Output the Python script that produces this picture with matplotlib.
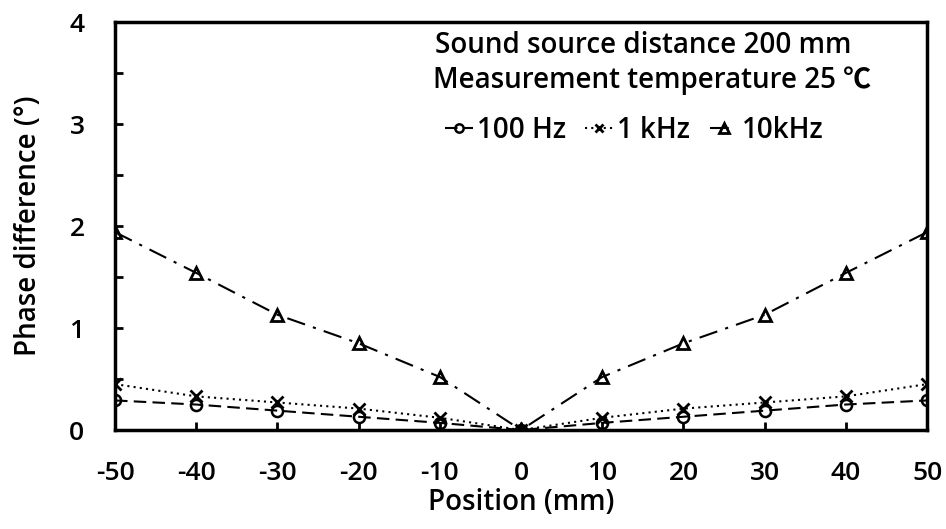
import numpy as np
import matplotlib
matplotlib.use('Agg')
import matplotlib.pyplot as plt
from matplotlib.ticker import MultipleLocator

# phase difference vs. microphone position
position = [-50, -40, -30, -20, -10, 0, 10, 20, 30, 40, 50]
phase_100hz = [0.29, 0.25, 0.19, 0.13, 0.07, 0.0, 0.07, 0.13, 0.19, 0.25, 0.29]
phase_1khz = [0.45, 0.33, 0.27, 0.21, 0.12, 0.0, 0.12, 0.21, 0.27, 0.33, 0.45]
phase_10khz = [1.94, 1.54, 1.13, 0.85, 0.52, 0.0, 0.52, 0.85, 1.13, 1.54, 1.94]

plt.rcParams['font.family'] = ['Open Sans', 'Noto Sans CJK JP', 'DejaVu Sans']
plt.rcParams['axes.unicode_minus'] = False

fig = plt.figure(figsize=(9.46, 5.29), dpi=100)
ax = fig.add_axes([0.1216, 0.1871, 0.8584, 0.7713])

ax.plot(position, phase_100hz, color='black', ls=(0, (6, 3)), lw=1.5,
        marker='o', ms=8, mfc='none', mew=1.8, label='100 Hz')
ax.plot(position, phase_1khz, color='black', ls=(0, (1, 2)), lw=1.5,
        marker='x', ms=8, mew=2.0, label='1 kHz')
ax.plot(position, phase_10khz, color='black', ls=(0, (9, 4, 1.5, 4)), lw=1.5,
        marker='^', ms=9, mfc='none', mew=2.0, label='10kHz')

ax.set_xlim(-50, 50)
ax.set_ylim(0, 4)
ax.xaxis.set_major_locator(MultipleLocator(10))
ax.yaxis.set_major_locator(MultipleLocator(1))
ax.yaxis.set_minor_locator(MultipleLocator(0.5))
ax.tick_params(axis='both', which='both', direction='in', width=2, color='black')
ax.tick_params(axis='both', which='major', length=6, labelsize=19)
ax.tick_params(axis='x', which='major', pad=22)
ax.tick_params(axis='y', which='major', pad=22)
ax.tick_params(axis='y', which='minor', length=6)
for lbl in ax.get_xticklabels() + ax.get_yticklabels():
    lbl.set_fontweight('semibold')
for s in ax.spines.values():
    s.set_linewidth(2.5)

ax.set_xlabel('Position (mm)', fontsize=20, fontweight='semibold', labelpad=2)
ax.set_ylabel('Phase difference (°)', fontsize=20, fontweight='semibold', labelpad=19)

ax.text(0.394, 0.942, 'Sound source distance 200 mm', transform=ax.transAxes,
        fontsize=20, fontweight='semibold', va='center', ha='left')
ax.text(0.391, 0.856, 'Measurement temperature 25 \u2103', transform=ax.transAxes,
        fontsize=20, fontweight='semibold', va='center', ha='left')

leg = ax.legend(loc='center left', bbox_to_anchor=(0.406, 0.735), ncol=3, frameon=False,
                fontsize=20, handlelength=1.0, handletextpad=0.15, columnspacing=0.7,
                borderpad=0, borderaxespad=0, markerscale=0.75)
for t in leg.get_texts():
    t.set_fontweight('semibold')

fig.savefig('out.png', dpi=100)
